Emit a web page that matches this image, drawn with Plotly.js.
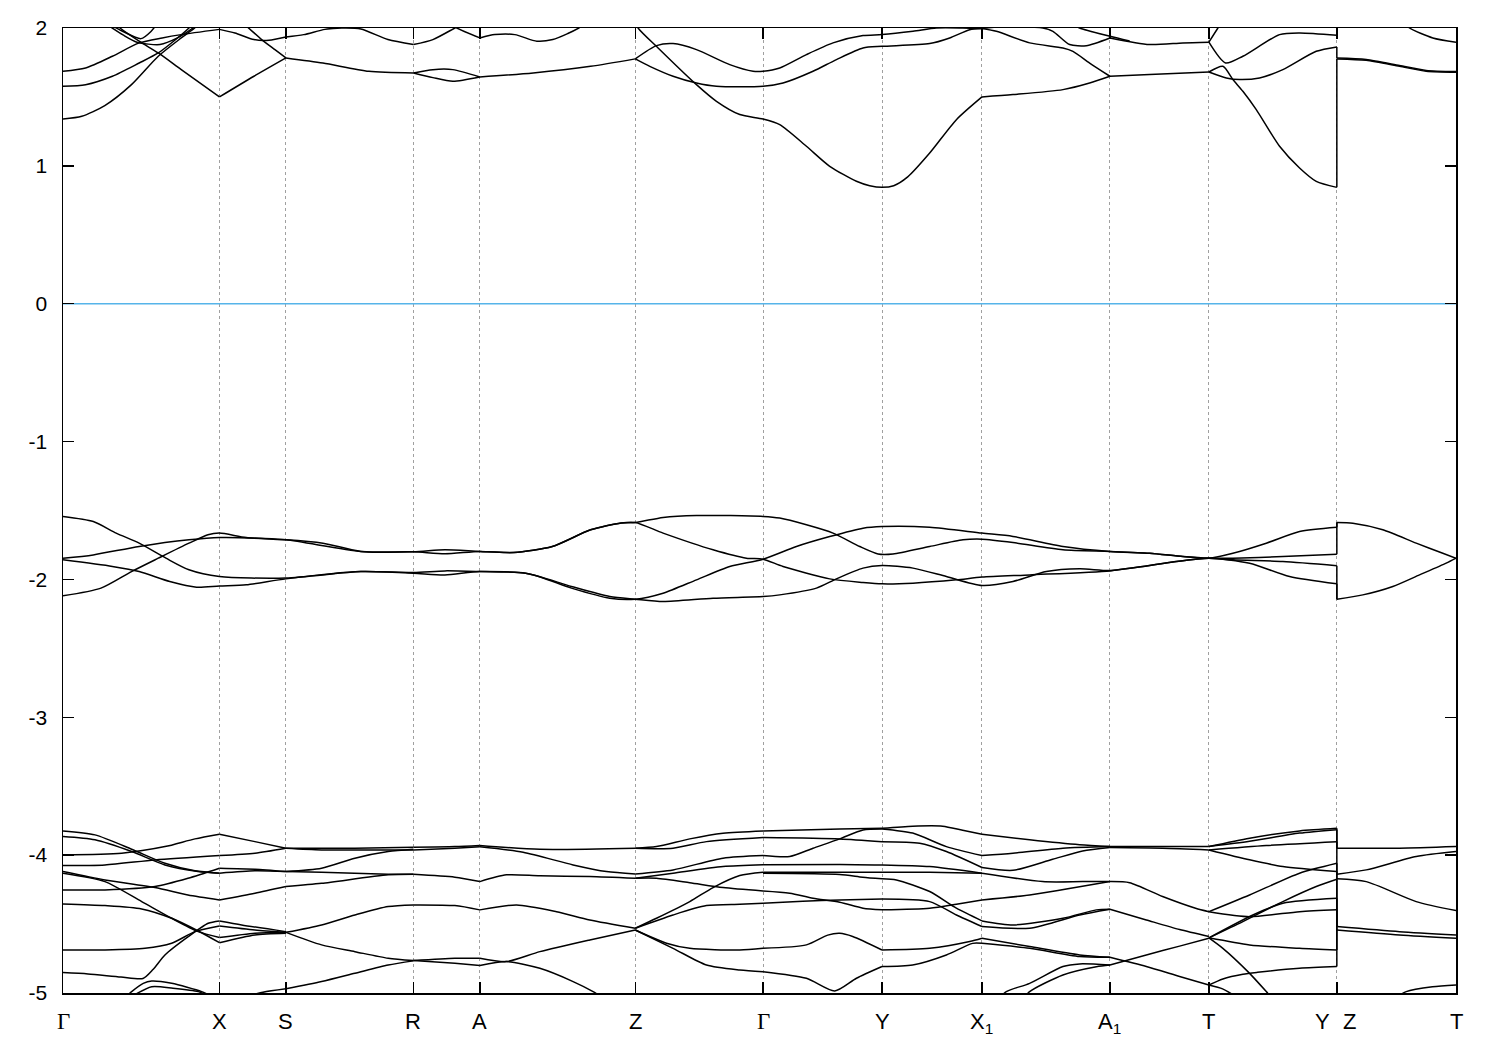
<!DOCTYPE html>
<html><head><meta charset="utf-8">
<script src="https://cdn.plot.ly/plotly-3.0.1.min.js"></script>
<style>html,body{margin:0;padding:0;background:#fff}#chart{width:1500px;height:1050px}</style>
</head><body><div id="chart"></div>
<script>
// ---- high-symmetry path ----
const kTicks  = [0,156.5,223,350.6,417,572.5,700.3,819.3,919.3,1047.3,1146.3,1274.3,1393.5];
const kLabels = ['Γ','X','S','R','A','Z','Γ','Y','X<sub>1</sub>','A<sub>1</sub>','T','Y|Z','T'];
const kBreak = 1274.3;           // Y|Z discontinuity
const energyTicks = [-5,-4,-3,-2,-1,0,1,2];
const fermiLevel = 0;

// ---- conduction bands (k, E) ----
const condLines = [
 [[0,1.34],[18.8,1.36],[41.8,1.437],[68.5,1.589],[95.3,1.795],[118.3,1.928],[131.7,2.0],[140,2.06]],
 [[0,1.577],[22.6,1.589],[49.4,1.65],[76.2,1.746],[95.3,1.819],[110.6,1.904],[126,2.0],[133,2.06]],
 [[0,1.686],[22.6,1.71],[49.4,1.795],[76.2,1.892],[99.2,1.928],[118.3,1.952],[156.5,1.99]],
 [[45,2.08],[57,2.0],[76.2,1.904],[95.3,1.819],[118.3,1.698],[156.5,1.50]],
 [[38,2.061],[60,1.975],[78,1.923],[88,1.975],[97,2.061]],
 [[45,2.02],[60,1.95],[74,1.897],[97,1.88],[114.5,1.928],[130,2.0],[135,2.03]],
 [[156.5,1.99],[172,1.964],[191,1.916],[206,1.911],[223,1.935]],
 [[156.5,1.50],[191,1.65],[223,1.783]],
 [[170,2.08],[175.7,2.061],[198.7,1.916],[212,1.843],[223,1.783]],
 [[223,1.935],[240.8,1.952],[262,1.99],[279,2.0],[298,1.993],[325,1.916],[350.6,1.88]],
 [[350.6,1.88],[370,1.916],[392,2.0],[400,2.03]],
 [[223,1.783],[260,1.746],[306,1.686],[350.6,1.674]],
 [[350.6,1.674],[370,1.64],[390,1.614],[417,1.645]],
 [[350.6,1.674],[370,1.698],[390,1.698],[417,1.645]],
 [[388,2.03],[394,2.0],[417,1.928]],
 [[417,1.928],[432,1.952],[452,1.952],[474,1.904],[490,1.916],[505,1.96],[516,2.0],[525,2.04]],
 [[417,1.645],[470.4,1.674],[527.8,1.722],[572.5,1.776]],
 [[570,2.08],[575.3,2.0],[595.3,1.855],[633.7,1.589],[653.7,1.468],[677,1.372],[700.3,1.34],[717,1.299],[743.7,1.142],[767,0.997],[793.7,0.888],[807,0.856],[819.3,0.844],[831,0.856],[845,0.92],[867,1.093],[893.7,1.335],[919.3,1.50]],
 [[572.5,1.776],[593.7,1.872],[610.3,1.887],[633.7,1.843],[667,1.734],[690.3,1.686],[700.3,1.686],[717,1.71],[743.7,1.807],[770.3,1.892],[800.3,1.945],[819.3,1.952],[850.3,1.976],[873.7,2.0],[900,2.0],[919.3,1.996]],
 [[572.5,1.776],[587,1.722],[610.3,1.65],[633.7,1.601],[653.7,1.577],[700.3,1.577],[720.3,1.601],[750.3,1.686],[773.7,1.771],[800.3,1.855],[819.3,1.867],[867,1.887],[887,1.928],[907,1.988],[919.3,1.996]],
 [[919.3,1.50],[950.3,1.517],[1000.3,1.553],[1027,1.601],[1047.3,1.65]],
 [[919.3,1.996],[933.7,1.976],[967,1.892],[1000.3,1.855],[1010.3,1.831],[1027,1.746],[1047.3,1.65]],
 [[919.3,1.996],[940,2.01],[980.3,2.0],[990.3,1.976],[1007,1.88],[1023.7,1.872],[1047.3,1.928]],
 [[1010,2.03],[1017,2.0],[1047.3,1.94],[1067,1.905]],
 [[1047.3,1.65],[1087,1.662],[1146.3,1.681]],
 [[1047.3,1.928],[1087,1.88],[1120.3,1.892],[1146.3,1.897]],
 [[1146.3,1.681],[1160.3,1.722],[1170.3,1.626],[1180.3,1.541],[1193.7,1.408],[1217,1.142],[1237,0.985],[1253.7,0.888],[1274.3,0.844]],
 [[1146.3,1.681],[1163.7,1.638],[1177,1.626],[1197,1.638],[1220.3,1.698],[1253.7,1.831],[1274.3,1.863]],
 [[1146.3,1.897],[1163,1.746],[1180.3,1.795],[1217,1.952],[1237,1.964],[1274.3,1.947]],
 [[1146.3,1.897],[1155.3,2.0],[1160,2.05]],
 [[1274.3,1.776],[1303.7,1.766],[1337,1.722],[1363.7,1.686],[1393.5,1.679]],
 [[1274.3,1.783],[1303.7,1.772],[1337,1.728],[1363.7,1.692],[1393.5,1.684]],
 [[1340,2.05],[1347,2.0],[1370.3,1.928],[1393.5,1.897]]
];
const condEndY   = [0.844,1.863,1.947];
const condStartZ = [1.776,1.783,2.08];

// ---- middle valence bands ----
const midLines = [
 [[0,-1.543],[30.3,-1.58],[53.2,-1.664],[76.2,-1.737],[103,-1.846],[126,-1.93],[156.5,-1.979],[223,-1.99],[298,-1.943],[350.6,-1.95],[382,-1.938],[417,-1.943],[463,-1.955],[508.6,-2.051],[547,-2.124],[572.5,-2.143],[600.3,-2.16],[650.3,-2.136],[700.3,-2.124],[717,-2.112],[753.7,-2.063],[773.7,-1.996],[800.3,-1.918],[819.3,-1.899],[850.3,-1.918],[883.7,-1.979],[919.3,-2.044],[950.3,-2.015],[983.7,-1.943],[1017,-1.923],[1047.3,-1.935],[1080.3,-1.906],[1113.7,-1.87],[1146.3,-1.846],[1170.3,-1.858],[1220.3,-1.87],[1274.3,-1.9]],
 [[0,-1.846],[30.3,-1.822],[76.2,-1.761],[126,-1.713],[156.5,-1.696],[223,-1.713],[260,-1.737],[298,-1.797],[350.6,-1.8],[382,-1.814],[417,-1.797],[451,-1.805],[489.5,-1.761],[527.8,-1.64],[558.4,-1.59],[572.5,-1.587],[600.3,-1.55],[633.7,-1.536],[700.3,-1.543],[717,-1.555],[743.7,-1.604],[770.3,-1.664],[797,-1.761],[815.3,-1.815],[830.3,-1.815],[867,-1.761],[900.3,-1.713],[919.3,-1.708],[950.3,-1.732],[1000.3,-1.785],[1047.3,-1.797],[1087,-1.81],[1120.3,-1.834],[1146.3,-1.846],[1170.3,-1.846],[1220.3,-1.834],[1274.3,-1.817]],
 [[0,-1.858],[49.4,-1.906],[76.2,-1.943],[106.8,-2.015],[133.6,-2.056],[156.5,-2.047],[183.4,-2.039],[223,-1.996],[298,-1.943],[350.6,-1.955],[382,-1.967],[417,-1.943],[466.6,-1.96],[508.6,-2.063],[547,-2.136],[572.5,-2.143],[600.3,-2.1],[633.7,-2.003],[667,-1.906],[700.3,-1.853],[733.7,-1.761],[767,-1.689],[800.3,-1.628],[819.3,-1.616],[867,-1.621],[919.3,-1.664],[950.3,-1.688],[1000.3,-1.761],[1047.3,-1.797],[1087,-1.81],[1120.3,-1.834],[1146.3,-1.846],[1170.3,-1.81],[1203.7,-1.737],[1237,-1.652],[1274.3,-1.621]],
 [[0,-2.119],[38,-2.063],[68.5,-1.943],[95.3,-1.846],[126,-1.737],[145,-1.676],[156.5,-1.664],[183.4,-1.696],[223,-1.713],[298,-1.797],[350.6,-1.8],[382,-1.785],[417,-1.797],[451,-1.805],[489.5,-1.761],[527.8,-1.64],[558.4,-1.59],[572.5,-1.587],[600.3,-1.664],[650.3,-1.785],[683.7,-1.846],[700.3,-1.853],[720.3,-1.906],[767,-1.996],[800.3,-2.022],[819.3,-2.032],[850.3,-2.027],[893.7,-2.003],[919.3,-1.983],[967,-1.967],[1047.3,-1.938],[1080.3,-1.906],[1113.7,-1.87],[1146.3,-1.846],[1187,-1.882],[1227,-1.979],[1274.3,-2.032]],
 [[1274.3,-1.587],[1290.3,-1.592],[1320.3,-1.64],[1353.7,-1.737],[1380.3,-1.81],[1393.5,-1.846]],
 [[1274.3,-2.143],[1300.3,-2.112],[1330.3,-2.051],[1357,-1.967],[1383.7,-1.882],[1393.5,-1.846]]
];
const midEndY   = [-1.621,-1.817,-1.9,-2.032];
const midStartZ = [-1.587,-1.587,-2.143,-2.143];

// ---- lower valence bands, by path segment ----
const valGX = [
 [[0,-3.824],[32,-3.853],[68.7,-3.957],[102,-4.059],[132,-4.114],[156.5,-4.131]],
 [[0,-3.865],[32,-3.889],[68.7,-3.974],[102,-4.071],[135,-4.118],[156.5,-4.131]],
 [[0,-3.998],[58.7,-3.986],[102,-3.938],[132,-3.882],[156.5,-3.848]],
 [[0,-4.076],[42,-4.071],[92,-4.035],[156.5,-4.003]],
 [[0,-4.252],[42,-4.252],[92,-4.228],[125,-4.168],[156.5,-4.095]],
 [[0,-4.119],[42,-4.18],[92,-4.235],[125,-4.289],[156.5,-4.325]],
 [[0,-4.131],[42,-4.192],[78.7,-4.337],[108.7,-4.458],[135.3,-4.555],[156.5,-4.598]],
 [[0,-4.354],[42,-4.366],[78.7,-4.39],[108.7,-4.458],[135.3,-4.55],[156.5,-4.635]],
 [[0,-4.688],[42,-4.688],[82,-4.676],[108.7,-4.639],[132,-4.555],[156.5,-4.514]],
 [[0,-4.852],[25,-4.862],[58,-4.884],[80,-4.895],[90,-4.83],[102,-4.724],[125.3,-4.591],[145.3,-4.494],[156.5,-4.477]],
 [[60,-5.05],[68.7,-4.99],[80.3,-4.93],[88.7,-4.913],[108.7,-4.93],[138.7,-4.99],[150,-5.03]],
 [[70,-5.02],[88.7,-4.954],[110,-4.965],[135.3,-4.99],[145,-5.02]]
];
const valXS = [
 [[156.5,-4.131],[192,-4.114],[223,-4.119]],
 [[156.5,-4.095],[192,-4.102],[223,-4.119]],
 [[156.5,-3.848],[192,-3.902],[223,-3.95]],
 [[156.5,-4.003],[192,-3.986],[223,-3.95]],
 [[156.5,-4.325],[192,-4.276],[223,-4.228]],
 [[156.5,-4.598],[192,-4.567],[223,-4.56]],
 [[156.5,-4.635],[192,-4.579],[223,-4.567]],
 [[156.5,-4.514],[192,-4.543],[223,-4.56]],
 [[156.5,-4.477],[178.7,-4.506],[223,-4.555]],
 [[180,-5.03],[200,-4.995],[223,-4.97]]
];
const valSR = [
 [[223,-3.95],[292,-3.95],[350.6,-3.943]],
 [[223,-3.95],[258.7,-3.962],[350.6,-3.962]],
 [[223,-4.119],[258.7,-4.095],[292,-4.022],[325.3,-3.974],[350.6,-3.957]],
 [[223,-4.119],[258.7,-4.124],[325.3,-4.139],[350.6,-4.139]],
 [[223,-4.228],[258.7,-4.204],[325.3,-4.143],[350.6,-4.139]],
 [[223,-4.56],[258.7,-4.506],[292,-4.434],[325.3,-4.373],[350.6,-4.361]],
 [[223,-4.56],[258.7,-4.651],[292,-4.7],[325.3,-4.748],[350.6,-4.765]],
 [[223,-4.97],[258.7,-4.917],[292,-4.857],[325.3,-4.797],[350.6,-4.767]]
];
const valRA = [
 [[350.6,-3.943],[392,-3.938],[417,-3.93]],
 [[350.6,-3.962],[392,-3.95],[417,-3.94]],
 [[350.6,-4.139],[392,-4.16],[417,-4.192]],
 [[350.6,-4.361],[392,-4.366],[417,-4.397]],
 [[350.6,-4.765],[392,-4.748],[417,-4.748]],
 [[350.6,-4.765],[392,-4.785],[417,-4.8]]
];
const valAZ = [
 [[417,-3.93],[477,-3.958],[572.5,-3.95]],
 [[417,-3.94],[460.3,-3.979],[510.3,-4.071],[543.7,-4.119],[572.5,-4.136]],
 [[417,-4.192],[443.7,-4.143],[477,-4.15],[527,-4.155],[572.5,-4.168]],
 [[417,-4.397],[453.7,-4.361],[493.7,-4.41],[527,-4.47],[572.5,-4.53]],
 [[417,-4.748],[443.7,-4.772],[477,-4.7],[527,-4.615],[572.5,-4.543]],
 [[417,-4.8],[443.7,-4.772],[477,-4.821],[510.3,-4.917],[530.3,-4.99],[545,-5.06]]
];
const valZG = [
 [[572.5,-3.95],[593.7,-3.938],[627,-3.882],[660.3,-3.841],[700.3,-3.824]],
 [[572.5,-3.95],[610.3,-3.95],[643.7,-3.902],[700.3,-3.872]],
 [[572.5,-4.136],[610.3,-4.107],[660.3,-4.022],[700.3,-4.003]],
 [[572.5,-4.168],[610.3,-4.131],[660.3,-4.083],[700.3,-4.07]],
 [[572.5,-4.168],[593.7,-4.168],[627,-4.2],[660.3,-4.235],[700.3,-4.26]],
 [[572.5,-4.53],[593.7,-4.458],[627,-4.337],[650.3,-4.235],[677,-4.148],[700.3,-4.124]],
 [[572.5,-4.53],[610.3,-4.434],[643.7,-4.366],[677,-4.356],[700.3,-4.349]],
 [[572.5,-4.543],[603.7,-4.639],[627,-4.676],[677,-4.688],[700.3,-4.676]],
 [[572.5,-4.543],[610.3,-4.676],[643.7,-4.797],[677,-4.833],[700.3,-4.845]]
];
const valGY = [
 [[700.3,-3.824],[777,-3.81],[819.3,-3.805]],
 [[700.3,-3.872],[777,-3.882],[819.3,-3.902]],
 [[700.3,-4.003],[727,-4.01],[750.3,-3.95],[777,-3.882],[800.3,-3.817],[819.3,-3.81]],
 [[700.3,-4.07],[777,-4.067],[819.3,-4.071]],
 [[700.3,-4.131],[777,-4.14],[800,-4.16],[819.3,-4.172]],
 [[700.3,-4.124],[777,-4.124],[819.3,-4.124]],
 [[700.3,-4.26],[727,-4.276],[750.3,-4.313],[777,-4.342],[800.3,-4.385],[819.3,-4.397]],
 [[700.3,-4.349],[740,-4.335],[777,-4.325],[819.3,-4.318]],
 [[700.3,-4.676],[743.7,-4.651],[765,-4.58],[777,-4.567],[790,-4.59],[819.3,-4.688]],
 [[700.3,-4.845],[743.7,-4.893],[772,-4.985],[793.7,-4.893],[819.3,-4.808]]
];
const valYX1 = [
 [[819.3,-3.805],[850,-3.79],[880,-3.79],[900,-3.82],[919.3,-3.848]],
 [[819.3,-3.81],[850,-3.84],[883.7,-3.938],[919.3,-4.003]],
 [[819.3,-3.902],[857,-3.913],[883.7,-3.974],[919.3,-4.09]],
 [[819.3,-4.071],[867,-4.083],[919.3,-4.131]],
 [[819.3,-4.124],[867,-4.124],[919.3,-4.131]],
 [[819.3,-4.397],[867,-4.385],[893.7,-4.356],[919.3,-4.325]],
 [[819.3,-4.172],[833.7,-4.18],[867,-4.264],[893.7,-4.385],[919.3,-4.477]],
 [[819.3,-4.318],[867,-4.337],[893.7,-4.434],[919.3,-4.518]],
 [[819.3,-4.688],[867,-4.676],[907,-4.627],[919.3,-4.603]],
 [[819.3,-4.808],[850,-4.797],[883.7,-4.724],[910,-4.64],[919.3,-4.64]]
];
const valX1A1 = [
 [[919.3,-3.848],[967,-3.889],[1017,-3.925],[1047.3,-3.938]],
 [[919.3,-4.003],[950.3,-3.986],[1000.3,-3.95],[1047.3,-3.938]],
 [[919.3,-4.09],[950.3,-4.11],[990,-4.03],[1020,-3.97],[1047.3,-3.945]],
 [[919.3,-4.131],[980,-4.192],[1020,-4.192],[1047.3,-4.192]],
 [[919.3,-4.325],[967,-4.289],[1047.3,-4.192]],
 [[919.3,-4.477],[950.3,-4.506],[1000.3,-4.458],[1033.7,-4.397],[1047.3,-4.392]],
 [[919.3,-4.518],[967,-4.53],[1017,-4.434],[1047.3,-4.392]],
 [[919.3,-4.603],[967,-4.663],[1017,-4.724],[1047.3,-4.741]],
 [[919.3,-4.64],[967,-4.676],[1017,-4.736],[1047.3,-4.741]],
 [[935,-5.05],[943.7,-4.99],[967,-4.93],[1000.3,-4.808],[1017,-4.789],[1047.3,-4.797]],
 [[960,-5.05],[967,-4.99],[1000.3,-4.869],[1033.7,-4.809],[1047.3,-4.797]]
];
const valA1T = [
 [[1047.3,-3.938],[1097,-3.938],[1146.3,-3.938]],
 [[1047.3,-3.945],[1100,-3.95],[1146.3,-3.962]],
 [[1047.3,-4.192],[1067,-4.2],[1100,-4.3],[1133,-4.385],[1146.3,-4.41]],
 [[1047.3,-4.392],[1083.7,-4.47],[1117,-4.54],[1146.3,-4.59]],
 [[1047.3,-4.741],[1083.7,-4.808],[1117,-4.88],[1146.3,-4.942]],
 [[1047.3,-4.797],[1083.7,-4.724],[1117,-4.66],[1146.3,-4.603]]
];
const valTY = [
 [[1146.3,-3.938],[1187,-3.877],[1237,-3.824],[1274.3,-3.805]],
 [[1146.3,-3.938],[1187,-3.9],[1237,-3.84],[1274.3,-3.815]],
 [[1146.3,-3.962],[1203.7,-3.93],[1274.3,-3.902]],
 [[1146.3,-3.962],[1187,-4.034],[1220.3,-4.083],[1274.3,-4.119]],
 [[1146.3,-4.41],[1187,-4.289],[1237,-4.131],[1274.3,-4.059]],
 [[1146.3,-4.41],[1187,-4.446],[1237,-4.41],[1274.3,-4.397]],
 [[1146.3,-4.6],[1180.3,-4.482],[1220.3,-4.337],[1253.7,-4.228],[1274.3,-4.175]],
 [[1146.3,-4.6],[1190.3,-4.434],[1220.3,-4.349],[1274.3,-4.313]],
 [[1146.3,-4.6],[1187,-4.651],[1237,-4.676],[1274.3,-4.688]],
 [[1146.3,-4.6],[1160.3,-4.676],[1185.3,-4.845],[1203.7,-4.99],[1212,-5.06]],
 [[1146.3,-4.942],[1160.3,-4.898],[1180.3,-4.864],[1195,-4.85],[1237,-4.82],[1274.3,-4.808]],
 [[1146.3,-4.942],[1160,-4.97],[1172,-5.02]]
];
const valZT = [
 [[1274.3,-3.95],[1337,-3.95],[1393.5,-3.938]],
 [[1274.3,-4.138],[1303.7,-4.107],[1353.7,-4.01],[1393.5,-3.974]],
 [[1274.3,-4.172],[1303.7,-4.192],[1353.7,-4.337],[1393.5,-4.402]],
 [[1274.3,-4.518],[1337,-4.555],[1393.5,-4.579]],
 [[1274.3,-4.543],[1337,-4.579],[1393.5,-4.603]],
 [[1330,-5.05],[1343.7,-4.99],[1370,-4.955],[1393.5,-4.942]]
];
const valEndY   = [-3.805,-3.815,-3.902,-4.059,-4.119,-4.175,-4.313,-4.397,-4.688,-4.808];
const valStartZ = [-3.95,-3.95,-4.138,-4.172,-4.518,-4.518,-4.543,-4.543,-4.543,-4.543];

// ---- build traces ----
const traces = [];
const bandLine = {color:'#000000', width:1.5, shape:'spline', smoothing:0.7};
function addLines(lines){
  lines.forEach(p => traces.push({
    x: p.map(q => q[0]), y: p.map(q => q[1]), type:'scatter', mode:'lines',
    line: bandLine, hoverinfo:'skip', showlegend:false
  }));
}
function addJumps(ends, starts){
  ends.forEach((e,i) => traces.push({
    x:[kBreak,kBreak], y:[e, starts[i]], type:'scatter', mode:'lines',
    line:{color:'#000000', width:1.5}, hoverinfo:'skip', showlegend:false
  }));
}
traces.push({x:[kTicks[0], kTicks[kTicks.length-1]], y:[fermiLevel, fermiLevel], type:'scatter', mode:'lines',
  line:{color:'#56b4e9', width:1.6}, hoverinfo:'skip', showlegend:false});
[condLines, midLines, valGX, valXS, valSR, valRA, valAZ, valZG, valGY, valYX1, valX1A1, valA1T, valTY, valZT].forEach(addLines);
addJumps(condEndY, condStartZ);
addJumps(midEndY, midStartZ);
addJumps(valEndY, valStartZ);

// ---- labels under the axis ----
const labelFont = {family:'Liberation Sans, Arial, sans-serif', size:22, color:'#000'};
const tickFont  = {family:'Liberation Sans, Arial, sans-serif', size:21, color:'#000'};
const gammaFont = {family:'Liberation Serif, Times New Roman, serif', size:23, color:'#000'};
const annotations = [];
kLabels.forEach((lab, i) => {
  const base = {xref:'x', yref:'paper', y:0, yanchor:'top', yshift:-14, showarrow:false, x:kTicks[i]};
  if (lab === 'Y|Z') {
    const parts = lab.split('|');
    annotations.push(Object.assign({}, base, {text:parts[0], xshift:-14, font:labelFont}));
    annotations.push(Object.assign({}, base, {text:parts[1], xshift:13, font:labelFont}));
  } else {
    annotations.push(Object.assign({}, base, {text:lab, font: lab === 'Γ' ? gammaFont : labelFont}));
  }
});

const layout = {
  width:1500, height:1050,
  margin:{l:63, r:44, t:28, b:57},
  paper_bgcolor:'#ffffff', plot_bgcolor:'#ffffff',
  showlegend:false,
  xaxis:{
    range:[kTicks[0], kTicks[kTicks.length-1]],
    tickmode:'array', tickvals:kTicks, showticklabels:false,
    ticks:'inside', ticklen:11, tickwidth:1.5, tickcolor:'#000',
    showline:true, linecolor:'#000', linewidth:1.5, mirror:'ticks',
    showgrid:true, gridcolor:'#a0a0a0', gridwidth:1, griddash:'3px,3px',
    zeroline:false, fixedrange:true
  },
  yaxis:{
    range:[-5,2],
    tickmode:'array', tickvals:energyTicks, ticktext:energyTicks.map(String),
    ticks:'inside', ticklen:11, tickwidth:1.5, tickcolor:'#000',
    tickfont:tickFont, ticklabelstandoff:10,
    showline:true, linecolor:'#000', linewidth:1.5, mirror:'ticks',
    showgrid:false, zeroline:false, fixedrange:true
  },
  annotations: annotations
};
Plotly.newPlot('chart', traces, layout, {staticPlot:true, displayModeBar:false});
</script>
</body></html>
